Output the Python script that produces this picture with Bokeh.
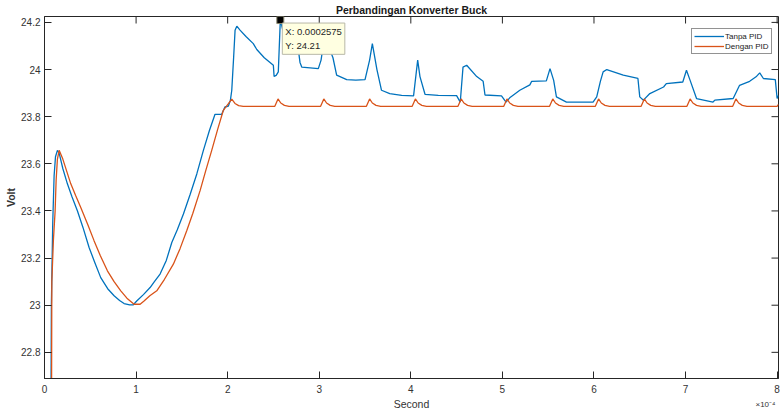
import math
from bokeh.plotting import figure
from bokeh.models import FixedTicker, Range1d, Label, Title
from bokeh.embed import file_html
from bokeh.resources import INLINE

# ---------------- data (time in units of 1e-4 s, voltage in V) ----------------
TANPA_X = [0.068, 0.075, 0.09, 0.105, 0.12, 0.141, 0.16, 0.20, 0.25, 0.30, 0.359, 0.42,
           0.487, 0.55, 0.614, 0.69, 0.76, 0.82, 0.869, 0.93, 0.97, 1.007, 1.08, 1.153,
           1.20, 1.262, 1.33, 1.39, 1.45, 1.517, 1.59, 1.663, 1.735, 1.80, 1.862, 1.935,
           1.97, 2.008, 2.03, 2.045, 2.065, 2.081, 2.10, 2.135, 2.20, 2.28, 2.318, 2.40,
           2.499, 2.507, 2.53, 2.553, 2.575, 2.60, 2.70, 2.77, 2.79, 2.81, 2.99, 3.02,
           3.05, 3.10, 3.15, 3.19, 3.30, 3.40, 3.50, 3.55, 3.58, 3.63, 3.68, 3.77, 3.90,
           4.03, 4.075, 4.10, 4.155, 4.30, 4.50, 4.54, 4.57, 4.61, 4.72, 4.79, 4.81, 4.99,
           5.04, 5.08, 5.19, 5.30, 5.32, 5.48, 5.52, 5.56, 5.59, 5.70, 5.99, 6.03, 6.07,
           6.10, 6.14, 6.32, 6.48, 6.50, 6.54, 6.61, 6.76, 6.79, 6.97, 7.01, 7.05, 7.12,
           7.30, 7.32, 7.52, 7.59, 7.70, 7.77, 7.81, 7.85, 7.98, 8.0, 8.015]
TANPA_Y = [22.30, 23.00, 23.35, 23.55, 23.63, 23.657, 23.645, 23.58, 23.515, 23.46, 23.401, 23.33,
           23.245, 23.18, 23.117, 23.07, 23.04, 23.02, 23.007, 23.001, 23.002, 23.018, 23.045, 23.075,
           23.10, 23.132, 23.19, 23.266, 23.32, 23.387, 23.47, 23.557, 23.657, 23.74, 23.81, 23.81,
           23.841, 23.845, 23.87, 23.912, 24.05, 24.167, 24.184, 24.167, 24.14, 24.11, 24.085, 24.05,
           24.018, 23.971, 23.975, 23.99, 24.21, 24.17, 24.12, 24.09, 24.03, 24.01, 24.004, 24.04,
           24.12, 24.10, 24.05, 23.976, 23.957, 23.955, 23.957, 24.04, 24.11, 24.00, 23.912, 23.898, 23.89,
           23.888, 24.04, 23.97, 23.895, 23.89, 23.889, 23.862, 24.01, 24.018, 23.97, 23.95, 23.892, 23.888,
           23.862, 23.88, 23.912, 23.935, 23.95, 23.952, 24.004, 23.954, 23.884, 23.862, 23.862, 23.884, 23.95,
           23.99, 24.0, 23.976, 23.962, 23.884, 23.87, 23.898, 23.926, 23.94, 23.947, 23.997, 23.954, 23.877,
           23.862, 23.87, 23.877, 23.933, 23.95, 23.969, 23.986, 23.962, 23.957, 23.877, 23.89]

DENGAN_X = [0.075, 0.08, 0.097, 0.116, 0.127, 0.141, 0.16, 0.20, 0.287, 0.34, 0.396, 0.47,
            0.541, 0.61, 0.687, 0.76, 0.833, 0.90, 0.978, 1.044, 1.087, 1.15, 1.226, 1.31,
            1.407, 1.48, 1.553, 1.62, 1.699, 1.76, 1.826, 1.89, 1.953, 2.008, 2.045, 2.08,
            2.12, 2.17,
            2.515, 2.55, 2.58, 2.62, 2.67,
            3.015, 3.05, 3.08, 3.12, 3.17,
            3.515, 3.55, 3.58, 3.62, 3.67,
            4.015, 4.05, 4.08, 4.12, 4.17,
            4.515, 4.55, 4.58, 4.62, 4.67,
            5.015, 5.05, 5.08, 5.12, 5.17,
            5.515, 5.55, 5.58, 5.62, 5.67,
            6.015, 6.05, 6.08, 6.12, 6.17,
            6.515, 6.55, 6.58, 6.62, 6.67,
            7.015, 7.05, 7.08, 7.12, 7.17,
            7.515, 7.55, 7.58, 7.62, 7.67,
            8.0, 8.015]
DENGAN_Y = [22.30, 23.10, 23.274, 23.40, 23.53, 23.62, 23.657, 23.62, 23.515, 23.465, 23.415, 23.345,
            23.274, 23.21, 23.146, 23.10, 23.061, 23.03, 23.004, 23.004, 23.018, 23.04, 23.061, 23.11,
            23.174, 23.24, 23.316, 23.39, 23.486, 23.57, 23.657, 23.745, 23.827, 23.855, 23.874, 23.856,
            23.847, 23.844,
            23.844, 23.875, 23.858, 23.848, 23.844,
            23.844, 23.875, 23.858, 23.848, 23.844,
            23.844, 23.875, 23.858, 23.848, 23.844,
            23.844, 23.875, 23.858, 23.848, 23.844,
            23.844, 23.875, 23.858, 23.848, 23.844,
            23.844, 23.875, 23.858, 23.848, 23.844,
            23.844, 23.875, 23.858, 23.848, 23.844,
            23.844, 23.875, 23.858, 23.848, 23.844,
            23.844, 23.875, 23.858, 23.848, 23.844,
            23.844, 23.875, 23.858, 23.848, 23.844,
            23.844, 23.875, 23.858, 23.848, 23.844,
            23.844, 23.852]

X_TICKS = [0, 1, 2, 3, 4, 5, 6, 7, 8]
Y_TICKS = [22.8, 23.0, 23.2, 23.4, 23.6, 23.8, 24.0, 24.2]
Y_TICK_LABELS = ["22.8", "23", "23.2", "23.4", "23.6", "23.8", "24", "24.2"]
X_EXPONENT = "\u00d710\u207b\u2074"

DATATIP_X = [2.575]
DATATIP_Y = [24.21]
DATATIP_TEXT = "X: 0.0002575\nY: 24.21"

TITLE = "Perbandingan Konverter Buck"
X_LABEL = "Second"
Y_LABEL = "Volt"
SERIES_NAMES = ["Tanpa PID", "Dengan PID"]

X_RANGE = (0.0, 8.015)
Y_RANGE = (22.689, 24.225)

# ---------------- style ----------------
BLUE = "#0072BD"
ORANGE = "#D95319"
AXC = "#262626"
TXT = "#333333"
FONT = "Liberation Sans"

p = figure(width=784, height=413, output_backend="svg", toolbar_location=None,
           x_range=Range1d(*X_RANGE), y_range=Range1d(*Y_RANGE),
           min_border_left=44, min_border_right=6, min_border_top=16, min_border_bottom=35)
p.background_fill_color = "white"
p.border_fill_color = "white"
p.outline_line_color = AXC
p.outline_line_width = 1
p.xgrid.visible = False
p.ygrid.visible = False

# title
p.title.text = TITLE
p.title.align = "center"
p.title.text_font = FONT
p.title.text_font_size = "10.5px"
p.title.text_font_style = "bold"
p.title.text_color = "#1a1a1a"
p.title.standoff = 1

p.line(TANPA_X, TANPA_Y, line_color=BLUE, line_width=1.3, legend_label=SERIES_NAMES[0])
p.line(DENGAN_X, DENGAN_Y, line_color=ORANGE, line_width=1.3, legend_label=SERIES_NAMES[1])

# axes
for ax in (p.xaxis[0], p.yaxis[0]):
    ax.axis_line_color = AXC
    ax.major_tick_line_color = AXC
    ax.major_tick_in = 7
    ax.major_tick_out = 0
    ax.minor_tick_line_color = None
    ax.major_label_text_font = FONT
    ax.major_label_text_font_size = "10px"
    ax.major_label_text_color = TXT
    ax.axis_label_text_font = FONT
    ax.axis_label_text_font_size = "10.5px"
    ax.axis_label_text_color = TXT
    ax.axis_label_text_font_style = "normal"

xb = p.xaxis[0]
yl = p.yaxis[0]
xb.ticker = FixedTicker(ticks=X_TICKS)
yl.ticker = FixedTicker(ticks=Y_TICKS)
yl.major_label_overrides = {t: s for t, s in zip(Y_TICKS, Y_TICK_LABELS)}
xb.major_label_standoff = 6
yl.major_label_standoff = 4
xb.axis_label = X_LABEL
xb.axis_label_standoff = 2
yl.axis_label = Y_LABEL
yl.axis_label_standoff = 1
yl.axis_label_text_font_style = "bold"

# inward ticks on the top and right edges of the box (clipped to the frame)
p.scatter(X_TICKS, [Y_RANGE[1]] * len(X_TICKS), marker="dash", angle=math.pi / 2,
          size=14, line_color=AXC, line_width=1)
p.scatter([X_RANGE[1]] * len(Y_TICKS), Y_TICKS, marker="dash",
          size=14, line_color=AXC, line_width=1)

# exponent of the x axis
expo = Title(text=X_EXPONENT, align="right", vertical_align="top", standoff=-25, offset=3,
             text_font=FONT, text_font_size="8px", text_font_style="normal", text_color=TXT)
p.add_layout(expo, "below")

# ---------------- datatip ----------------
p.scatter(DATATIP_X, DATATIP_Y, marker="square", size=7, fill_color="black",
          line_color="#8c8a70", line_width=1)
tip = Label(x=DATATIP_X[0], y=DATATIP_Y[0], x_offset=2, y_offset=-3, text=DATATIP_TEXT,
            text_align="left", text_baseline="top", text_font=FONT,
            text_font_size="9.5px", text_color="#262626", text_line_height=1.3,
            background_fill_color="#FFFFE1", border_line_color="#B8B8A8",
            padding=3)
p.add_layout(tip)

# ---------------- legend ----------------
lg = p.legend[0]
lg.location = (647, 324)
lg.margin = 0
lg.padding = 2
lg.spacing = 0
lg.label_height = 10
lg.glyph_height = 10
lg.glyph_width = 30
lg.label_standoff = 1
lg.label_text_font = FONT
lg.label_text_font_size = "8px"
lg.label_text_color = "#1a1a1a"
lg.border_line_color = AXC
lg.border_line_width = 1
lg.background_fill_color = "white"
lg.background_fill_alpha = 1.0

open("out.html", "w").write(file_html(p, INLINE))
